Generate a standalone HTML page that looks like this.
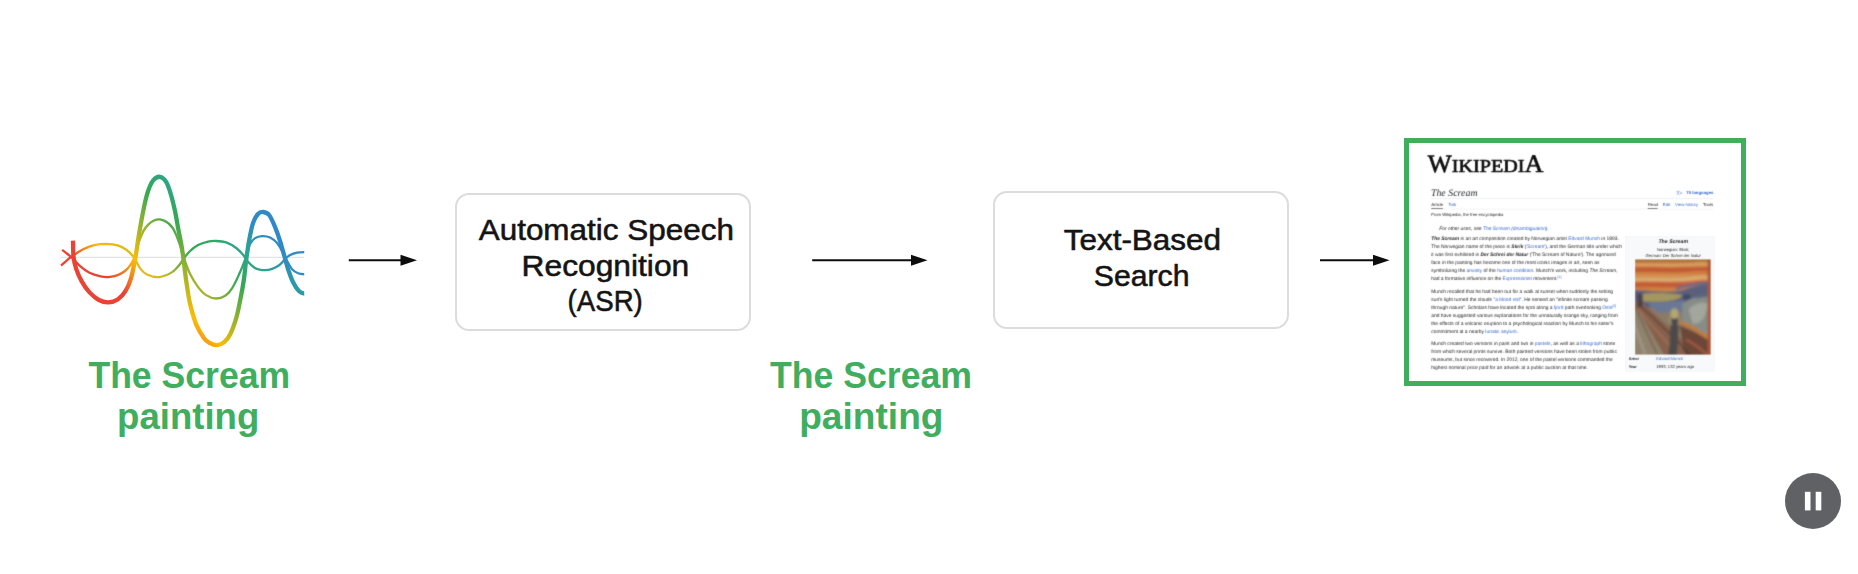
<!DOCTYPE html>
<html><head><meta charset="utf-8"><title>Voice search pipeline</title>
<style>
html,body{margin:0;padding:0;background:#fff;}
body{width:1858px;height:574px;position:relative;overflow:hidden;font-family:"Liberation Sans",sans-serif;}
#main{position:absolute;left:0;top:0;width:1858px;height:574px;}
.box{position:absolute;box-sizing:border-box;border:2px solid #dcdcdc;border-radius:14px;background:#fff;}
#frame{position:absolute;left:1404px;top:138px;width:341.7px;height:248.2px;box-sizing:border-box;border:5px solid #40ad5f;background:#fff;overflow:hidden;}
#wk{position:absolute;left:1.8px;top:1.8px;width:1074px;height:772px;transform:scale(0.3075);transform-origin:0 0;background:#fff;color:#1c1c1e;font-family:"Liberation Sans",sans-serif;font-size:16px;line-height:26px;text-rendering:geometricPrecision;-webkit-font-smoothing:antialiased;}
#wk *{box-sizing:border-box;}
#wk .abs{position:absolute;white-space:nowrap;}
#wk .ttl{left:68px;top:138px;font:italic 32px/40px "Liberation Serif",serif;color:#25282c;letter-spacing:0.1px;}
#wk .rule{position:absolute;left:68px;width:918px;height:1.3px;background:#c8ccd1;}
#wk .tab{font-size:14px;line-height:20px;top:188px;color:#202122;}
#wk .ul{position:absolute;height:2px;background:#202122;top:209px;}
#wk .from{left:69px;top:220px;font-size:13.8px;line-height:20px;color:#202122;}
#wk .hat{left:95px;top:263px;font-style:italic;font-size:16px;}
#wk .body{position:absolute;left:69px;top:295px;width:622px;}
#wk .body p{margin:0 0 15.5px 0;}
#wk sup{font-size:11px;line-height:1;vertical-align:super;color:#3366cc;}
#wk .ib{position:absolute;left:700px;top:301px;width:290px;height:438px;background:#f8f9fa;border:1px solid #eaecf0;font-size:13.5px;line-height:19px;text-align:center;}
#wk .ib .t{position:absolute;left:22px;right:0;top:4px;font-weight:bold;font-style:italic;font-size:17px;line-height:24px;}
#wk .ib .s1{position:absolute;left:22px;right:0;top:33px;}
#wk .ib .s2{position:absolute;left:22px;right:0;top:53px;font-style:italic;}
#wk .ib .k{position:absolute;left:10px;font-weight:bold;font-size:12.5px;text-align:left;}
#wk .ib .v{position:absolute;left:100px;font-size:13.5px;text-align:left;}
#wk .pnt{position:absolute;left:30.5px;top:72.5px;width:246.5px;height:310px;}
#wk a,#wk .l,#wk .tab.l,#wk .ib .v.l{color:#3366cc;text-decoration:none;}
#wkw{position:absolute;left:-1px;top:-1px;width:334px;height:241px;background:#fff;filter:url(#soft);}

</style></head><body>
<div class="box" style="left:454.7px;top:192.7px;width:296.4px;height:138.6px"></div>
<div class="box" style="left:992.9px;top:190.8px;width:296.5px;height:138.7px"></div>
<div id="frame"><div id="wkw"><div id="wk">
<svg class="abs" style="left:50px;top:20px" width="420" height="90" viewBox="0 0 420 90"><g font-family="Liberation Serif, serif" fill="#0c0c0c" stroke="#0c0c0c" stroke-width="2.2" stroke-linejoin="round"><text x="7.5" y="71.7" font-size="82" textLength="78" lengthAdjust="spacingAndGlyphs">W</text><text x="86" y="71.7" font-size="59.5" textLength="236" lengthAdjust="spacingAndGlyphs">IKIPEDI</text><text x="322.5" y="71.7" font-size="82" textLength="61.5" lengthAdjust="spacingAndGlyphs">A</text></g></svg>
<div class="abs ttl">The Scream</div>
<div class="abs" style="left:866px;top:146px;font-size:14px;line-height:20px;font-weight:bold;color:#3366cc"><span style="font-weight:normal;font-size:13px;letter-spacing:-1px;margin-right:14px">&#x6587;<span style="font-size:11px">A</span></span>70 languages</div>
<div class="rule" style="top:176px"></div>
<div class="abs tab" style="left:69px">Article</div>
<div class="abs tab l" style="left:125px">Talk</div>
<div class="ul" style="left:69px;width:38px"></div>
<div class="abs tab" style="left:773px">Read</div>
<div class="abs tab l" style="left:822px">Edit</div>
<div class="abs tab l" style="left:862px">View history</div>
<div class="abs tab" style="left:953px">Tools</div>
<div class="ul" style="left:773px;width:32px"></div>
<div class="rule" style="top:210.5px;background:#d5d8dc"></div>
<div class="abs from">From Wikipedia, the free encyclopedia</div>
<div class="abs hat">For other uses, see <span class="l">The Scream (disambiguation)</span>.</div>
<div class="body">
<p><b><i>The Scream</i></b> is an art composition created by Norwegian artist <span class="l">Edvard Munch</span> in 1893. The Norwegian name of the piece is <b><i>Skrik</i></b> (<span class="l">'Scream'</span>), and the German title under which it was first exhibited is <b><i>Der Schrei der Natur</i></b> ('The Scream of Nature'). The agonized face in the painting has become one of the most iconic images in art, seen as symbolizing the <span class="l">anxiety</span> of the <span class="l">human condition</span>. Munch's work, including <i>The Scream</i>, had a formative influence on the <span class="l">Expressionist</span> movement.<sup>[1]</sup></p>
<p>Munch recalled that he had been out for a walk at sunset when suddenly the setting sun's light turned the clouds <span class="l">"a blood red"</span>. He sensed an "infinite scream passing through nature". Scholars have located the spot along a <span class="l">fjord</span> path overlooking <span class="l">Oslo</span><sup>[2]</sup> and have suggested various explanations for the unnaturally orange sky, ranging from the effects of a volcanic eruption to a psychological reaction by Munch to his sister's commitment at a nearby <span class="l">lunatic asylum</span>.</p>
<p>Munch created two versions in paint and two in <span class="l">pastels</span>, as well as a <span class="l">lithograph</span> stone from which several prints survive. Both painted versions have been stolen from public museums, but since recovered. In 2012, one of the pastel versions commanded the highest nominal price paid for an artwork at a public auction at that time.</p>
</div>
<div class="ib">
<div class="t">The Scream</div>
<div class="s1">Norwegian: <i>Skrik</i>,</div>
<div class="s2">German: Der Schrei der Natur</div>
<!--PAINTING-START--><svg class="pnt" viewBox="0 0 75 95" preserveAspectRatio="none">
<defs>
<filter id="pb" x="-5%" y="-5%" width="110%" height="110%"><feGaussianBlur stdDeviation="0.9"/></filter>
<clipPath id="pc"><rect x="0" y="0" width="75" height="95"/></clipPath>
<linearGradient id="sky" x1="0" y1="0" x2="0" y2="1">
<stop offset="0" stop-color="#c25c38"/><stop offset="0.10" stop-color="#d07e42"/><stop offset="0.22" stop-color="#d99c5a"/>
<stop offset="0.30" stop-color="#c45a36"/><stop offset="0.42" stop-color="#d08040"/><stop offset="0.58" stop-color="#d8a468"/>
<stop offset="0.68" stop-color="#c45e38"/><stop offset="0.82" stop-color="#cf8040"/><stop offset="1" stop-color="#b8865a"/>
</linearGradient>
</defs>
<g clip-path="url(#pc)"><g filter="url(#pb)">
<rect x="-3" y="-3" width="81" height="101" fill="#8a7a66"/>
<!-- sky -->
<rect x="-3" y="-3" width="81" height="40" fill="url(#sky)"/><rect x="-3" y="-3" width="81" height="6.5" fill="#b0743e"/>
<path d="M-3 6C15 3 35 9 55 5S75 7 78 6" stroke="#dba662" stroke-width="1.6" fill="none"/>
<path d="M-3 11.5C15 9 35 14 55 10.5S75 12 78 11" stroke="#bf5434" stroke-width="2.2" fill="none"/>
<path d="M-3 21C15 18 35 24 55 19S75 20 78 19" stroke="#dcb47a" stroke-width="1.7" fill="none"/>
<path d="M-3 26C15 23 35 29 55 24S75 25 78 24" stroke="#c05636" stroke-width="2.6" fill="none"/>
<path d="M-3 31.5C15 29 35 33.5 55 29.5S75 29 78 28" stroke="#cf8444" stroke-width="2.4" fill="none"/>
<!-- fjord blue -->
<path d="M-3 31C10 30 30 34.5 45 31C55 28 65 25 78 23L78 48L-3 48Z" fill="#5a607c"/>
<path d="M40 29.5C52 26 62 24 78 23" stroke="#666c8a" stroke-width="2.6" fill="none"/>
<!-- tan landscape -->
<path d="M7 34.5C18 33 32 33.5 47 35.5C44 41.5 28 43 8 42Z" fill="#a4965e"/>
<!-- lake -->
<path d="M12 43.5C25 42.5 38 42.5 48 40.5L50 53L22 53Z" fill="#6a7896"/>
<ellipse cx="51" cy="37.5" rx="4" ry="3" fill="#3f4a66"/>
<!-- right landscape swirl -->
<path d="M47 44C55 38 65 36 78 34L78 82C68 76 56 70 46 64Z" fill="#868d88"/>
<path d="M53 50C58 44 66 42 72 44C71 55 66 66 57 64Z" fill="#a2a69c"/>
<path d="M60 38C66 36 72 36 78 37" stroke="#5c6a80" stroke-width="3" fill="none"/>
<!-- bridge floor -->
<path d="M-3 44L8 46L40 95L-3 98Z" fill="#8f836e"/>
<path d="M2 52L22 95" stroke="#7d6650" stroke-width="2" fill="none"/>
<path d="M-2 62L10 95" stroke="#a09480" stroke-width="3" fill="none"/>
<!-- bridge rail -->
<path d="M-3 40L8 44L66 98L30 98L4 52L-3 50Z" fill="#87604c"/>
<path d="M4 45L58 97" stroke="#5d4438" stroke-width="1.6" fill="none"/>
<path d="M2 49L44 97" stroke="#a0705a" stroke-width="1.8" fill="none"/>
<!-- lower right dark -->
<path d="M44 66C55 70 66 76 78 84L78 98L50 98Z" fill="#6c4639"/>
<path d="M50 80C58 84 66 90 72 96" stroke="#a45a44" stroke-width="2.2" fill="none"/>
<path d="M47 88L56 97" stroke="#4e3a34" stroke-width="2" fill="none"/>
<!-- orange curve -->
<path d="M45 63C55 66 66 73 78 83" stroke="#c47a36" stroke-width="3.4" fill="none"/>
<!-- two figures on left -->
<rect x="2.4" y="34" width="5" height="14" rx="1.5" fill="#4c4046"/>
<!-- main figure -->
<path d="M36 59C34 68 35.5 80 32.5 98L41.5 98C41.5 84 44 72 42.5 59Z" fill="#4b4848"/>
<ellipse cx="39" cy="54" rx="4" ry="5.2" fill="#b4a672"/>
<path d="M35 56C33.5 59 34.5 63 36.5 65M43 56C44.5 59 43.5 63 42 65" stroke="#a89a72" stroke-width="1.2" fill="none"/>
<!-- right strip -->
<rect x="71.8" y="-3" width="6.2" height="101" fill="#ae5636"/>
</g></g>
</svg>
<!--PAINTING-END-->
<div class="k" style="top:388px">Artist</div><div class="v l" style="top:388px">Edvard Munch</div>
<div class="k" style="top:412px">Year</div><div class="v" style="top:412px">1893; 132 years ago</div>
</div>
</div>
</div></div>
<svg id="main" width="1858" height="574" viewBox="0 0 1858 574">
<defs>
<linearGradient id="wg" gradientUnits="userSpaceOnUse" x1="80" y1="280" x2="210" y2="150">
<stop offset="0" stop-color="#ea4335"/>
<stop offset="0.12" stop-color="#ea4335"/>
<stop offset="0.29" stop-color="#fbbc05"/>
<stop offset="0.60" stop-color="#34a853"/>
<stop offset="0.74" stop-color="#2aa58f"/>
<stop offset="0.885" stop-color="#2f89c9"/>
<stop offset="1" stop-color="#2f89c9"/>
</linearGradient>
<linearGradient id="wg2" gradientUnits="userSpaceOnUse" x1="80" y1="280" x2="210" y2="150">
<stop offset="0" stop-color="#ea4335"/>
<stop offset="0.06" stop-color="#ea4335"/>
<stop offset="0.20" stop-color="#f9bb0a"/>
<stop offset="0.31" stop-color="#d9bb1c"/>
<stop offset="0.52" stop-color="#34a853"/>
<stop offset="0.67" stop-color="#30a766"/>
<stop offset="0.74" stop-color="#2aa58f"/>
<stop offset="0.90" stop-color="#2f89c9"/>
<stop offset="1" stop-color="#2f89c9"/>
</linearGradient>
<filter id="soft" x="0" y="0" width="1" height="1" color-interpolation-filters="sRGB"><feConvolveMatrix order="3" kernelMatrix="0.037 0.19 0.037 0.19 1 0.19 0.037 0.19 0.037" divisor="1.908" edgeMode="duplicate" preserveAlpha="true"/></filter>
<clipPath id="wclip"><rect x="55" y="160" width="249.2" height="200"/></clipPath>
</defs>

<line x1="60.5" y1="257.4" x2="304" y2="257.4" stroke="#e4e4e4" stroke-width="1.4"/>
<g fill="none" stroke="url(#wg)" stroke-linecap="butt" stroke-linejoin="round" clip-path="url(#wclip)">
<path d="M61.0 265.5C62.1 264.6 65.5 261.4 67.5 259.8C69.5 258.2 70.4 257.4 73.0 255.6C75.6 253.8 79.7 251.1 83.2 249.3C86.7 247.6 90.3 246.0 94.2 245.1C98.1 244.2 102.8 243.8 106.7 243.8C110.6 243.9 114.6 244.5 117.7 245.4C120.8 246.3 123.2 247.7 125.6 249.3C127.9 250.9 130.1 253.0 131.8 254.8C133.5 256.6 134.2 258.0 135.7 260.3C137.1 262.6 138.6 266.5 140.5 268.9C142.4 271.3 143.9 273.1 147.0 274.5C150.1 275.9 154.8 277.5 159.0 277.1C163.2 276.7 168.6 274.3 172.1 272.1C175.6 269.9 178.1 266.4 180.1 264.0C182.1 261.6 182.4 260.2 184.1 258.0C185.8 255.8 187.8 253.2 190.1 251.0C192.4 248.8 195.1 246.6 198.1 245.0C201.1 243.4 205.1 242.3 208.1 241.6C211.1 240.9 213.1 240.9 216.1 241.0C219.1 241.1 222.8 241.2 226.2 242.4C229.5 243.6 233.4 245.9 236.2 248.0C239.0 250.1 241.2 252.7 243.2 255.0C245.2 257.3 246.4 259.9 248.2 262.0C250.0 264.1 252.5 266.3 254.2 267.5C255.8 268.7 256.3 268.8 258.1 269.2C259.9 269.6 262.8 270.3 265.1 270.2C267.4 270.1 269.8 269.6 272.1 268.8C274.4 268.0 276.9 266.8 279.1 265.2C281.3 263.6 283.3 260.8 285.1 259.1C286.9 257.4 288.1 256.2 290.1 255.1C292.1 254.0 294.5 253.2 297.1 252.7C299.8 252.2 304.5 252.1 306.0 252.0" stroke-width="2.3" stroke="url(#wg2)"/>
<path d="M62.1 249.8C63.0 250.5 65.7 252.5 67.5 254.0C69.3 255.5 70.9 256.7 73.0 258.7C75.1 260.7 77.3 263.8 80.1 266.1C82.8 268.5 86.1 271.1 89.5 272.8C92.9 274.5 97.4 275.7 100.5 276.4C103.6 277.1 105.4 277.3 108.3 277.1C111.2 276.9 114.8 276.3 117.7 275.2C120.6 274.1 123.4 272.3 125.6 270.5C127.8 268.7 129.6 266.3 131.0 264.2C132.4 262.1 132.9 261.4 134.2 257.9C135.4 254.4 136.9 247.5 138.5 243.0C140.1 238.5 141.9 234.0 143.5 230.9C145.1 227.8 146.4 226.4 148.2 224.6C150.0 222.8 152.5 221.1 154.5 220.2C156.5 219.3 157.9 219.1 160.0 219.4C162.1 219.7 164.9 220.8 167.0 222.2C169.1 223.6 170.9 225.5 172.5 227.7C174.1 229.9 175.1 232.5 176.4 235.6C177.7 238.7 179.2 242.8 180.4 246.5C181.6 250.2 182.1 253.0 183.7 257.6C185.3 262.2 187.7 269.2 190.1 274.1C192.5 279.0 195.4 283.6 198.1 287.1C200.8 290.6 203.1 293.2 206.1 295.1C209.1 297.0 212.9 298.4 216.1 298.5C219.3 298.6 222.5 297.4 225.2 295.7C227.9 294.0 229.9 291.7 232.2 288.1C234.5 284.5 237.2 278.5 239.2 274.1C241.2 269.8 243.0 265.0 244.2 262.0C245.4 259.0 245.6 259.0 246.6 256.0C247.6 253.0 248.6 247.1 250.0 244.1C251.4 241.1 253.1 239.4 255.1 238.1C257.1 236.8 259.6 236.2 262.1 236.1C264.6 236.0 267.6 236.3 270.1 237.5C272.6 238.7 274.9 240.5 277.1 243.1C279.3 245.7 281.4 250.1 283.1 253.1C284.8 256.1 285.6 258.4 287.1 261.1C288.6 263.8 290.3 267.2 292.1 269.2C293.9 271.2 295.8 272.3 298.1 273.2C300.4 274.1 304.7 274.2 306.0 274.4" stroke-width="2.3"/>
<path d="M73.0 240.7C73.1 243.3 73.0 251.7 73.5 256.4C74.0 261.1 74.8 264.7 76.2 268.9C77.6 273.1 79.5 277.5 81.7 281.4C83.9 285.3 86.6 289.3 89.5 292.4C92.4 295.5 95.8 298.4 98.9 300.0C102.0 301.6 105.2 302.4 108.3 302.3C111.4 302.2 114.8 301.4 117.7 299.5C120.6 297.6 123.4 294.4 125.6 290.9C127.8 287.4 129.6 282.8 131.0 278.3C132.4 273.9 133.4 267.9 134.2 264.2C135.0 260.5 134.9 260.8 135.7 256.0C136.5 251.2 137.6 242.7 138.8 235.6C140.0 228.5 141.3 220.7 142.7 213.6C144.1 206.5 145.7 198.7 147.4 193.2C149.1 187.7 150.8 183.4 152.9 180.7C155.0 178.0 157.8 176.6 160.0 176.8C162.2 177.1 164.5 179.2 166.3 182.2C168.1 185.2 169.6 190.1 171.0 194.8C172.4 199.5 173.7 205.0 174.9 210.5C176.1 216.0 177.0 222.2 178.0 227.7C179.0 233.2 180.2 238.4 181.1 243.4C182.0 248.4 182.5 251.5 183.3 257.6C184.1 263.7 185.0 272.4 186.1 280.1C187.2 287.9 188.4 296.8 190.1 304.1C191.8 311.4 193.8 318.4 196.1 324.1C198.4 329.8 201.8 335.0 204.1 338.2C206.4 341.4 207.9 342.0 210.1 343.2C212.3 344.4 214.8 345.4 217.1 345.2C219.4 345.0 222.0 344.0 224.2 342.2C226.4 340.4 228.2 338.2 230.2 334.2C232.2 330.2 234.5 323.8 236.2 318.1C237.9 312.4 238.9 306.4 240.2 300.1C241.5 293.8 242.8 287.0 243.8 280.1C244.8 273.2 245.4 265.5 246.3 259.0C247.2 252.5 247.9 247.1 249.0 241.1C250.1 235.1 251.5 227.6 253.0 223.1C254.5 218.6 256.3 215.8 258.0 214.0C259.7 212.2 261.2 211.8 263.1 212.0C265.0 212.2 267.1 212.5 269.1 215.0C271.1 217.5 273.3 222.8 275.1 227.1C276.9 231.4 278.6 236.4 280.1 241.1C281.6 245.8 282.8 250.4 284.1 255.1C285.4 259.8 286.6 264.7 288.1 269.2C289.6 273.7 291.3 278.5 293.1 282.2C294.9 285.9 297.0 289.2 299.1 291.2C301.2 293.2 304.9 293.5 306.0 294.0" stroke-width="4.3"/>
</g>

<!-- arrows -->
<g stroke="#0d0d0d" stroke-width="2" fill="#0d0d0d">
<line x1="348.8" y1="260.3" x2="404" y2="260.3"/><path d="M417 260.3L400.5 254.8L400.5 265.8Z" stroke="none"/>
<line x1="812.2" y1="260.3" x2="914" y2="260.3"/><path d="M927.5 260.3L911 254.8L911 265.8Z" stroke="none"/>
<line x1="1320" y1="260.3" x2="1376" y2="260.3"/><path d="M1389.5 260.3L1373 254.8L1373 265.8Z" stroke="none"/>
</g>
<!-- box text -->
<g font-family="Liberation Sans, sans-serif" font-size="29.5" fill="#141414" stroke="#141414" stroke-width="0.55" stroke-linejoin="round" text-anchor="start">
<text x="478.7" y="240.3" textLength="255.2" lengthAdjust="spacingAndGlyphs">Automatic Speech</text>
<text x="521.6" y="275.6" textLength="167.6" lengthAdjust="spacingAndGlyphs">Recognition</text>
<text x="567.6" y="311" textLength="75.2" lengthAdjust="spacingAndGlyphs">(ASR)</text>
<text x="1063.7" y="249.9" textLength="157.4" lengthAdjust="spacingAndGlyphs">Text-Based</text>
<text x="1093.8" y="286.3" textLength="95.7" lengthAdjust="spacingAndGlyphs">Search</text>
</g>
<g font-family="Liberation Sans, sans-serif" font-size="36.2" font-weight="bold" fill="#40ad5f">
<text x="88.4" y="388" textLength="201.8" lengthAdjust="spacingAndGlyphs">The Scream</text>
<text x="117.1" y="429.2" textLength="142.2" lengthAdjust="spacingAndGlyphs">painting</text>
<text x="769.9" y="387.8" textLength="202.2" lengthAdjust="spacingAndGlyphs">The Scream</text>
<text x="799.2" y="429.1" textLength="144.3" lengthAdjust="spacingAndGlyphs">painting</text>
</g>
<!-- pause button -->
<circle cx="1813" cy="501" r="28" fill="#5f6165"/>
<rect x="1804.9" y="491.8" width="5.6" height="18.6" fill="#fff"/>
<rect x="1815.7" y="491.8" width="5.6" height="18.6" fill="#fff"/>
</svg>
</body></html>
